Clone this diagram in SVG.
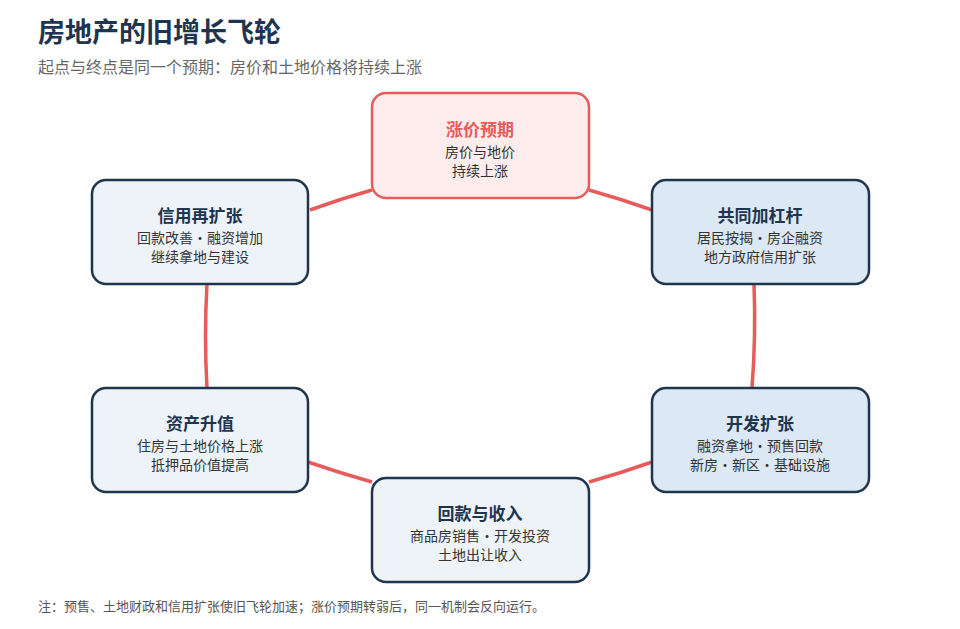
<svg xmlns="http://www.w3.org/2000/svg" width="960" height="629" viewBox="0 0 960 629">
<style>
text{font-family:"Noto Sans CJK SC","Noto Sans",sans-serif}
.box{stroke:#1e3550;stroke-width:2.5}
.t{font-size:17px;font-weight:bold;fill:#1e3550;text-anchor:middle}
.s{font-size:14px;fill:#333;text-anchor:middle}
.c{fill:none;stroke:#e85b5b;stroke-width:3.5}
</style>
<rect width="960" height="629" fill="#fff"/>
<text x="38" y="42" font-size="27" font-weight="bold" fill="#1e3550">房地产的旧增长飞轮</text>
<text x="38" y="73" font-size="16" fill="#666">起点与终点是同一个预期：房价和土地价格将持续上涨</text>
<g id="connectors">
<path class="c" d="M310,210 Q340,199 372,190"/>
<path class="c" d="M589,190 Q621,199 652,210"/>
<path class="c" d="M754,284 Q756,336 752,388"/>
<path class="c" d="M207,284 Q204,336 207,388"/>
<path class="c" d="M589,482 Q621,473 652,462"/>
<path class="c" d="M308,462 Q340,473 372,482"/>
</g>
<g id="n1"><rect x="372" y="93" width="217" height="105" rx="14" fill="#fdecec" stroke="#e85b5b" stroke-width="2.5"/>
<text class="t" x="480" y="136" style="fill:#e85b5b">涨价预期</text><text class="s" x="480" y="157">房价与地价</text><text class="s" x="480" y="176">持续上涨</text></g>
<g id="n2"><rect class="box" x="652" y="180" width="217" height="104" rx="14" fill="#dce8f3"/>
<text class="t" x="760" y="222">共同加杠杆</text><text class="s" x="760" y="243">居民按揭・房企融资</text><text class="s" x="760" y="262">地方政府信用扩张</text></g>
<g id="n3"><rect class="box" x="652" y="388" width="217" height="104" rx="14" fill="#dce8f3"/>
<text class="t" x="760" y="430">开发扩张</text><text class="s" x="760" y="451">融资拿地・预售回款</text><text class="s" x="760" y="470">新房・新区・基础设施</text></g>
<g id="n4"><rect class="box" x="372" y="478" width="217" height="104" rx="14" fill="#eef3f8"/>
<text class="t" x="480" y="520">回款与收入</text><text class="s" x="480" y="541">商品房销售・开发投资</text><text class="s" x="480" y="560">土地出让收入</text></g>
<g id="n5"><rect class="box" x="92" y="388" width="216" height="104" rx="14" fill="#eef3f8"/>
<text class="t" x="200" y="430">资产升值</text><text class="s" x="200" y="451">住房与土地价格上涨</text><text class="s" x="200" y="470">抵押品价值提高</text></g>
<g id="n6"><rect class="box" x="92" y="180" width="216" height="104" rx="14" fill="#eef3f8"/>
<text class="t" x="200" y="222">信用再扩张</text><text class="s" x="200" y="243">回款改善・融资增加</text><text class="s" x="200" y="262">继续拿地与建设</text></g>
<text x="38" y="611" font-size="13" fill="#555">注：预售、土地财政和信用扩张使旧飞轮加速；涨价预期转弱后，同一机制会反向运行。</text>
</svg>
